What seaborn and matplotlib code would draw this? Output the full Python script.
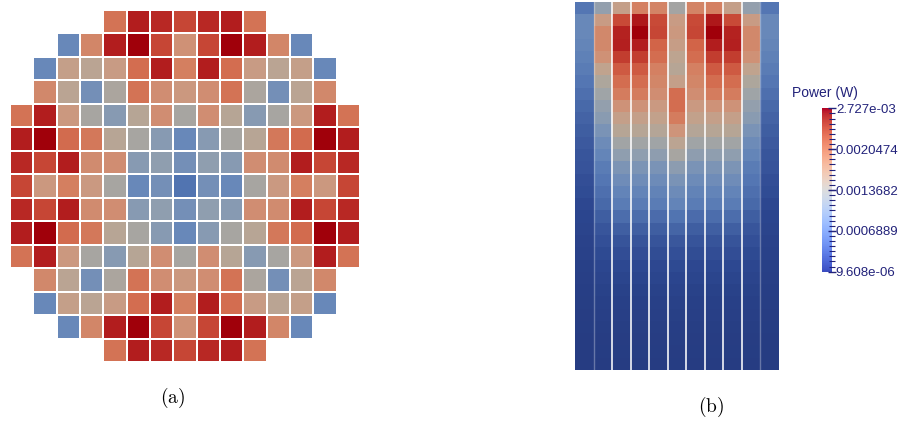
import numpy as np
import matplotlib
matplotlib.use('Agg')
import matplotlib.pyplot as plt
import seaborn as sns
from matplotlib.colors import LinearSegmentedColormap, Normalize
from matplotlib.cm import ScalarMappable
from matplotlib.ticker import FixedLocator

nan = np.nan

# radial assembly power (mW), 15x15 map, NaN = outside the core
core_rows = [
    [nan, nan, nan, nan, 1.96, 2.51, 2.43, 2.24, 2.43, 2.51, 1.96, nan, nan, nan, nan],
    [nan, nan, 0.82, 1.80, 2.51, 2.72, 2.24, 1.69, 2.24, 2.72, 2.51, 1.80, 0.82, nan, nan],
    [nan, 0.82, 1.52, 1.42, 1.58, 2.00, 2.51, 1.86, 2.51, 2.00, 1.58, 1.42, 1.52, 0.82, nan],
    [nan, 1.78, 1.42, 0.90, 1.28, 1.96, 1.72, 1.62, 1.72, 1.96, 1.28, 0.90, 1.42, 1.78, nan],
    [1.96, 2.51, 1.62, 1.25, 1.02, 1.38, 1.72, 1.25, 1.72, 1.38, 1.02, 1.25, 1.62, 2.51, 1.96],
    [2.51, 2.72, 2.02, 1.92, 1.40, 1.25, 1.02, 0.82, 1.02, 1.25, 1.40, 1.92, 2.02, 2.72, 2.51],
    [2.43, 2.24, 2.51, 1.75, 1.72, 1.02, 1.08, 0.90, 1.08, 1.02, 1.72, 1.75, 2.51, 2.24, 2.43],
    [2.24, 1.62, 1.86, 1.60, 1.25, 0.82, 0.90, 0.63, 0.90, 0.82, 1.25, 1.60, 1.86, 1.62, 2.24],
    [2.43, 2.24, 2.51, 1.75, 1.72, 1.02, 1.08, 0.90, 1.08, 1.02, 1.72, 1.75, 2.51, 2.24, 2.43],
    [2.51, 2.72, 2.02, 1.92, 1.40, 1.25, 1.02, 0.82, 1.02, 1.25, 1.40, 1.92, 2.02, 2.72, 2.51],
    [1.96, 2.51, 1.62, 1.25, 1.02, 1.38, 1.72, 1.25, 1.72, 1.38, 1.02, 1.25, 1.62, 2.51, 1.96],
    [nan, 1.78, 1.42, 0.90, 1.28, 1.96, 1.72, 1.62, 1.72, 1.96, 1.28, 0.90, 1.42, 1.78, nan],
    [nan, 0.82, 1.52, 1.42, 1.58, 2.00, 2.51, 1.86, 2.51, 2.00, 1.58, 1.42, 1.52, 0.82, nan],
    [nan, nan, 0.82, 1.80, 2.51, 2.72, 2.24, 1.69, 2.24, 2.72, 2.51, 1.80, 0.82, nan, nan],
    [nan, nan, nan, nan, 1.96, 2.51, 2.43, 2.24, 2.43, 2.51, 1.96, nan, nan, nan, nan],
]

# axial power (mW) per column of the slice, top row first (30 axial levels)
reflector = [0.65, 0.82, 0.82, 0.79, 0.75, 0.71, 0.65, 0.60, 0.55, 0.50,
             0.46, 0.42, 0.38, 0.35, 0.30, 0.27, 0.22, 0.19, 0.16, 0.13,
             0.11, 0.09, 0.07, 0.06, 0.05, 0.04, 0.03, 0.02, 0.02, 0.01]
ring1 = [1.10, 1.58, 1.78, 1.78, 1.69, 1.48, 1.30, 1.18, 1.10, 1.03,
         0.94, 0.85, 0.79, 0.71, 0.65, 0.60, 0.55, 0.46, 0.38, 0.31,
         0.25, 0.20, 0.16, 0.12, 0.09, 0.07, 0.05, 0.04, 0.03, 0.02]
ring2 = [1.52, 2.22, 2.48, 2.50, 2.30, 2.13, 2.00, 1.88, 1.68, 1.52,
         1.38, 1.20, 1.08, 0.95, 0.86, 0.78, 0.71, 0.58, 0.47, 0.37,
         0.29, 0.23, 0.17, 0.12, 0.09, 0.07, 0.05, 0.04, 0.03, 0.02]
ring3 = [1.85, 2.55, 2.72, 2.51, 2.30, 2.13, 2.00, 1.88, 1.68, 1.52,
         1.38, 1.20, 1.08, 0.95, 0.86, 0.78, 0.71, 0.58, 0.47, 0.37,
         0.29, 0.23, 0.17, 0.12, 0.09, 0.07, 0.05, 0.04, 0.03, 0.02]
ring4 = [1.82, 2.22, 2.24, 2.07, 2.00, 1.85, 1.80, 1.72, 1.60, 1.50,
         1.36, 1.19, 1.07, 0.94, 0.85, 0.77, 0.70, 0.57, 0.46, 0.36,
         0.28, 0.22, 0.17, 0.12, 0.09, 0.07, 0.05, 0.04, 0.03, 0.02]
center = [1.22, 1.58, 1.62, 1.55, 1.45, 1.38, 1.52, 2.00, 2.00, 1.88,
          1.66, 1.43, 1.25, 1.05, 0.94, 0.85, 0.78, 0.63, 0.51, 0.40,
          0.31, 0.25, 0.19, 0.14, 0.10, 0.08, 0.06, 0.05, 0.04, 0.03]

# colorbar range and labels (W)
p_min = 9.608e-06
p_max = 2.727e-03
cbar_ticks = [2.727e-03, 0.0020474, 0.0013682, 0.0006889, 9.608e-06]
cbar_labels = ['2.727e-03', '0.0020474', '0.0013682', '0.0006889', '9.608e-06']

plt.rcParams['mathtext.fontset'] = 'cm'
navy = '#22227a'

# shaded "cool to warm" look of the rendered cells
shaded = LinearSegmentedColormap.from_list('shaded', [
    (0.00, (38/255, 60/255, 130/255)),
    (0.08, (45/255, 72/255, 145/255)),
    (0.16, (62/255, 92/255, 160/255)),
    (0.24, (85/255, 120/255, 180/255)),
    (0.30, (105/255, 137/255, 185/255)),
    (0.36, (130/255, 152/255, 180/255)),
    (0.42, (155/255, 163/255, 170/255)),
    (0.48, (175/255, 166/255, 155/255)),
    (0.54, (192/255, 163/255, 142/255)),
    (0.60, (205/255, 150/255, 125/255)),
    (0.68, (212/255, 128/255, 97/255)),
    (0.76, (210/255, 100/255, 72/255)),
    (0.84, (195/255, 62/255, 48/255)),
    (0.92, (178/255, 30/255, 30/255)),
    (1.00, (160/255, 0/255, 10/255)),
])

core = np.array(core_rows) * 1e-3
axial = np.column_stack([reflector, ring1, ring2, ring3, ring4, center,
                         ring4, ring3, ring2, ring1, reflector]) * 1e-3

W, H = 904, 423
fig = plt.figure(figsize=(W / 100, H / 100), dpi=100)

# (a) radial map
ax1 = fig.add_axes([10 / W, 1 - 362 / H, 350 / W, 352 / H])
sns.heatmap(core, ax=ax1, cmap=shaded, vmin=p_min, vmax=p_max, cbar=False,
            linewidths=1.1, linecolor='white', xticklabels=False, yticklabels=False)
ax1.set_xticks([])
ax1.set_yticks([])

# (b) axial slice
ax2 = fig.add_axes([575 / W, 1 - 370 / H, 204 / W, 368.3 / H])
sns.heatmap(axial, ax=ax2, cmap=shaded, vmin=p_min, vmax=p_max, cbar=False,
            linewidths=0, xticklabels=False, yticklabels=False)
ax2.set_xticks([])
ax2.set_yticks([])
n_cols = axial.shape[1]
for x in range(1, n_cols):
    inner = 1 < x < n_cols - 1
    ax2.axvline(x, color='white', lw=1.2 if inner else 1.0, alpha=0.95 if inner else 0.3)

# colorbar
cax = fig.add_axes([821.7 / W, 1 - 271.7 / H, 10 / W, 163.4 / H])
sm = ScalarMappable(norm=Normalize(vmin=p_min, vmax=p_max), cmap='coolwarm')
cbar = fig.colorbar(sm, cax=cax)
cbar.outline.set_visible(False)
cbar.set_ticks(cbar_ticks)
cbar.set_ticklabels(cbar_labels)
cax.yaxis.set_minor_locator(FixedLocator(np.linspace(p_min, p_max, 33)))
cax.tick_params(which='major', direction='inout', length=6, width=1, color=navy,
                labelcolor=navy, labelsize=9.5, pad=0)
cax.tick_params(which='minor', direction='inout', length=4, width=0.8, color=navy)
for lab in cax.get_yticklabels():
    lab.set_family('Liberation Sans')
fig.text(792 / W, 1 - 92.7 / H, 'Power (W)', ha='left', va='center',
         fontsize=10, color=navy, family='Liberation Sans')

fig.text(172.5 / W, 1 - 397.5 / H, r'$\mathrm{(a)}$', ha='center', va='center', fontsize=14)
fig.text(711 / W, 1 - 407 / H, r'$\mathrm{(b)}$', ha='center', va='center', fontsize=14)

fig.savefig('out.png', dpi=100)
